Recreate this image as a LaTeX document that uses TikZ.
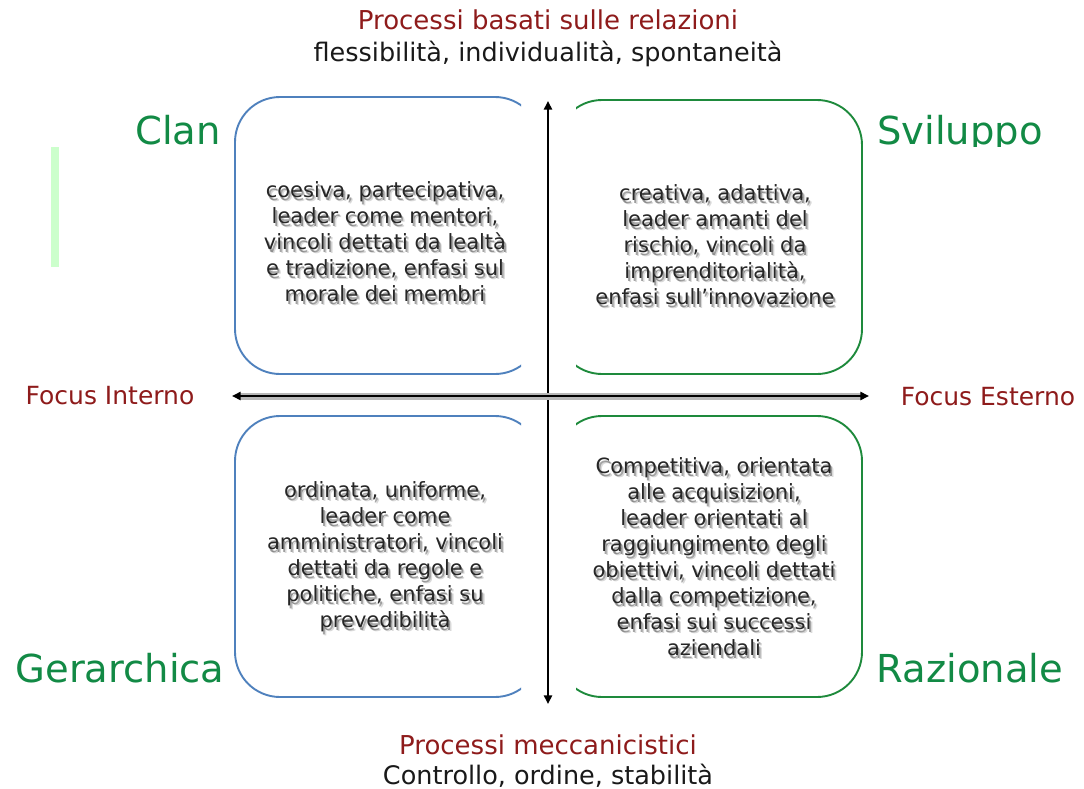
\documentclass[tikz,border=0pt]{standalone}
\usepackage{fontspec}
\setmainfont{DejaVu Sans}
\usetikzlibrary{positioning,arrows.meta,calc}
\definecolor{grn}{HTML}{128A45}
\definecolor{dred}{HTML}{8E1B1B}
\definecolor{bluebox}{HTML}{4F81BD}
\definecolor{grnbox}{HTML}{1E8A3C}
\definecolor{bar}{HTML}{CCFFCC}
\tikzset{
  >={Triangle[length=3mm,width=2.8mm]},
  quad/.style={draw, line width=1.9pt, rounded corners=45pt, fill=white},
  boxtxt/.style={align=center, font=\fontsize{21}{26}\selectfont, inner sep=0pt},
  kind/.style={text=grn, font=\fontsize{38.5}{40}\selectfont, inner sep=0pt},
  focus/.style={text=dred, font=\fontsize{25}{28}\selectfont, inner sep=0pt},
  head/.style={text=dred, font=\fontsize{26}{28}\selectfont, inner sep=0pt},
  sub/.style={text=black!90, font=\fontsize{25.5}{28}\selectfont, inner sep=0pt},
  axis/.style={<->, line width=2.6pt, black},
}
% text with a soft grey shadow
\newcommand\shadowtext[3]{%
  \foreach \dx/\dy/\op in {3/4/0.15,1.6/2.4/0.35}
    \node[boxtxt, text=black, opacity=\op] at ($(#1)+(\dx,\dy)$) {#3};
  \node[boxtxt, text=black!85] (#2) at (#1) {#3};}
\begin{document}
\begin{tikzpicture}[x=1pt,y=-1pt]
  \useasboundingbox (0,0) rectangle (1084,789);
  % quadrant boxes, cut near the axes
  \begin{scope}
    \clip (200,80) rectangle (521,377);
    \node[quad, draw=bluebox, minimum width=305pt, minimum height=277pt] (clan) at (387.5,235.5) {};
  \end{scope}
  \begin{scope}
    \clip (576,80) rectangle (900,377);
    \node[quad, draw=grnbox, minimum width=305pt, minimum height=274pt] (svil) at (709.5,237) {};
  \end{scope}
  \begin{scope}
    \clip (200,413) rectangle (521,720);
    \node[quad, draw=bluebox, minimum width=305pt, minimum height=281pt] (gerar) at (387.5,556.5) {};
  \end{scope}
  \begin{scope}
    \clip (576,413) rectangle (900,720);
    \node[quad, draw=grnbox, minimum width=305pt, minimum height=281pt] (raz) at (709.5,556.5) {};
  \end{scope}
  % axes
  \coordinate (ntop) at (548,101);
  \coordinate (nbot) at (548,704);
  \coordinate (wleft) at (232,396);
  \coordinate (eright) at (869,396);
  \draw[axis] (nbot) -- (ntop);
  \draw[line width=7pt, black!28] ($(wleft)+(8,0)$) -- ($(eright)+(-8,0)$);
  \draw[axis] (wleft) -- (eright);
  % box texts
  \shadowtext{385,242}{tclan}{coesiva, partecipativa,\\leader come mentori,\\vincoli dettati da lealtà\\e tradizione, enfasi sul\\morale dei membri}
  \shadowtext{715,245}{tsvil}{creativa, adattiva,\\leader amanti del\\rischio, vincoli da\\imprenditorialità,\\enfasi sull’innovazione}
  \shadowtext{385,557}{tgerar}{ordinata, uniforme,\\leader come\\amministratori, vincoli\\dettati da regole e\\politiche, enfasi su\\prevedibilità}
  \shadowtext{714,557}{traz}{Competitiva, orientata\\alle acquisizioni,\\leader orientati al\\raggiungimento degli\\obiettivi, vincoli dettati\\dalla competizione,\\enfasi sui successi\\aziendali}
  % quadrant names
  \node[kind, anchor=base] (lclan) at (178,145) {Clan};
  \begin{scope}
    \clip (860,100) rectangle (1084,147);
    \node[kind, anchor=base west] (lsvil) at (877,145) {Sviluppo};
  \end{scope}
  \node[kind] (lgerar) at (120,668) {Gerarchica};
  \node[kind] (lraz) at (970,668) {Razionale};
  % axis labels
  \node[focus] (fint) at (110,396) {Focus Interno};
  \node[focus] (fest) at (988,397) {Focus Esterno};
  \node[head] (rel) at (548,20) {Processi basati sulle relazioni};
  \node[sub, below=11pt of rel] (relsub) {flessibilità, individualità, spontaneità};
  \node[head] (mecc) at (548,745) {Processi meccanicistici};
  \node[sub, below=9pt of mecc] (meccsub) {Controllo, ordine, stabilità};
  % green bar
  \fill[bar] (51,147) rectangle (59,267);
\end{tikzpicture}
\end{document}
